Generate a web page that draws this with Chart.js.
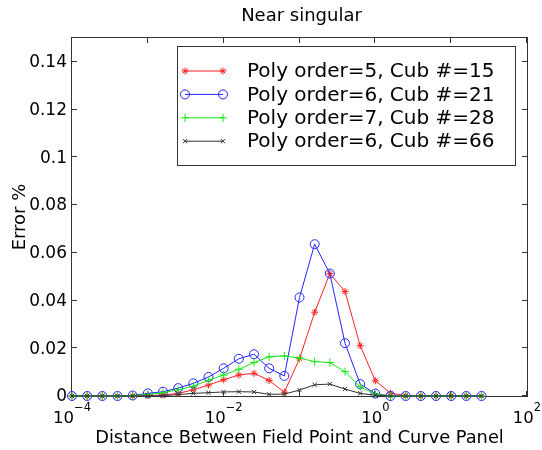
<!DOCTYPE html>
<html>
<head>
<meta charset="utf-8">
<title>Near singular</title>
<script src="https://cdn.jsdelivr.net/npm/chart.js@4.4.1/dist/chart.umd.min.js"></script>
<style>
  html, body { margin: 0; padding: 0; background: #fff; }
  canvas { display: block; }
</style>
</head>
<body>
<canvas id="chart" width="542" height="450"></canvas>
<script>
// log10 of the distance, one sample every 0.2 decade
const distExp = [-4, -3.8, -3.6, -3.4, -3.2, -3, -2.8, -2.6, -2.4, -2.2,
                 -2, -1.8, -1.6, -1.4, -1.2, -1, -0.8, -0.6, -0.4, -0.2,
                 0, 0.2, 0.4, 0.6, 0.8, 1, 1.2, 1.4];

// error % per series
const poly5cub15 = [0, 0, 0, 0, 0, 0.0002, 0.0004, 0.0011, 0.0026, 0.0046,
                    0.0068, 0.0088, 0.0095, 0.0065, 0.0016, 0.0156, 0.0351, 0.0513, 0.0438, 0.0211,
                    0.0064, 0.0012, 0.0002, 0, 0, 0, 0, 0];
const poly6cub21 = [0, 0, 0, 0, 0.0002, 0.0011, 0.0018, 0.0033, 0.0053, 0.008,
                    0.0116, 0.0156, 0.0175, 0.0116, 0.0084, 0.0413, 0.0636, 0.0513, 0.0221, 0.005,
                    0.001, 0, 0, 0, 0, 0, 0, 0];
const poly7cub28 = [0, 0, 0, 0, 0.0001, 0.0006, 0.0014, 0.0026, 0.0041, 0.0066,
                    0.0088, 0.0112, 0.014, 0.0164, 0.0168, 0.0159, 0.0144, 0.014, 0.0102, 0.0039,
                    0.0008, 0, 0, 0, 0, 0, 0, 0];
const poly6cub66 = [0, 0, 0, 0, 0, 0, 0.0001, 0.0006, 0.0011, 0.0014,
                    0.0017, 0.0018, 0.0017, 0.0007, 0.0008, 0.0025, 0.0047, 0.005, 0.0029, 0.0011,
                    0.0003, 0, 0, 0, 0, 0, 0, 0];

const seriesNames = ['Poly order=5, Cub #=15', 'Poly order=6, Cub #=21',
                     'Poly order=7, Cub #=28', 'Poly order=6, Cub #=66'];

const xTickExp = [-4, -3, -2, -1, 0, 1, 2];   // tick marks every decade
const xLabelExp = [-4, -2, 0, 2];             // labelled decades
const yTicks = [0, 0.02, 0.04, 0.06, 0.08, 0.1, 0.12, 0.14];
const yTickLabels = ['0', '0.02', '0.04', '0.06', '0.08', '0.1', '0.12', '0.14'];

const FONT = '"DejaVu Sans", sans-serif';

const styles = [
  { color: '#ff2020', pointStyle: 'star',     radius: 3.5, order: 4 },
  { color: '#2424ff', pointStyle: 'circle',   radius: 4.5, order: 3 },
  { color: '#14e614', pointStyle: 'cross',    radius: 4,   order: 2 },
  { color: '#303030', pointStyle: 'crossRot', radius: 3,   order: 1 }
];

function toPoints(vals) {
  return vals.map((v, i) => ({ x: Math.pow(10, distExp[i]), y: v }));
}

const allSeries = [poly5cub15, poly6cub21, poly7cub28, poly6cub66];

const datasets = allSeries.map((vals, k) => ({
  label: seriesNames[k],
  data: toPoints(vals),
  borderColor: styles[k].color,
  backgroundColor: 'rgba(0,0,0,0)',
  pointBorderColor: styles[k].color,
  pointBackgroundColor: 'rgba(0,0,0,0)',
  borderWidth: 1,
  pointBorderWidth: 1,
  pointRadius: styles[k].radius,
  pointStyle: styles[k].pointStyle,
  tension: 0,
  clip: false,
  order: styles[k].order
}));

// matlab-ish frame, inner ticks, labels and boxed legend
const matlabAxes = {
  id: 'matlabAxes',
  beforeDatasetsDraw(chart) {
    const ctx = chart.ctx;
    const a = chart.chartArea;
    const xs = chart.scales.x, ys = chart.scales.y;
    const l = a.left, r = a.right, t = a.top, b = a.bottom;
    ctx.save();
    ctx.strokeStyle = '#333';
    ctx.lineWidth = 1;
    ctx.strokeRect(l - 0.5, t - 0.5, r - l + 1, b - t + 1);

    ctx.beginPath();
    xTickExp.forEach(e => {
      const px = Math.round(xs.getPixelForValue(Math.pow(10, e))) - 0.5;
      ctx.moveTo(px, b); ctx.lineTo(px, b - 5);
      ctx.moveTo(px, t); ctx.lineTo(px, t + 5);
    });
    yTicks.forEach(v => {
      const py = Math.round(ys.getPixelForValue(v)) - 0.5;
      ctx.moveTo(l, py); ctx.lineTo(l + 5, py);
      ctx.moveTo(r, py); ctx.lineTo(r - 5, py);
    });
    ctx.stroke();

    ctx.fillStyle = '#000';
    // y tick labels
    ctx.font = '17px ' + FONT;
    ctx.textAlign = 'right';
    ctx.textBaseline = 'middle';
    yTicks.forEach((v, i) => {
      ctx.fillText(yTickLabels[i], l - 5, ys.getPixelForValue(v) + 1);
    });

    // x tick labels 10^n
    ctx.textBaseline = 'alphabetic';
    ctx.textAlign = 'left';
    xLabelExp.forEach(e => {
      const px = xs.getPixelForValue(Math.pow(10, e));
      const sup = e < 0 ? '\u2212' + Math.abs(e) : String(e);
      ctx.font = '16.5px ' + FONT;
      const wBase = ctx.measureText('10').width;
      ctx.font = '11.5px ' + FONT;
      const wSup = ctx.measureText(sup).width;
      const x0 = px - (wBase + wSup) / 2;
      ctx.font = '16.5px ' + FONT;
      ctx.fillText('10', x0, b + 27);
      ctx.font = '11.5px ' + FONT;
      ctx.fillText(sup, x0 + wBase, b + 15);
    });

    // titles
    ctx.textAlign = 'center';
    ctx.font = '17.8px ' + FONT;
    ctx.fillText('Distance Between Field Point and Curve Panel', (l + r) / 2, b + 47);
    ctx.font = '18px ' + FONT;
    ctx.fillText('Near singular', (l + r) / 2 + 2, 21);

    ctx.save();
    ctx.translate(25, (t + b) / 2);
    ctx.rotate(-Math.PI / 2);
    ctx.fillText('Error %', 0, 0);
    ctx.restore();
    ctx.restore();
  },
  afterDatasetsDraw(chart) {
    const ctx = chart.ctx;
    const bx = 177, by = 46, bw = 338, bh = 119;
    ctx.save();
    ctx.fillStyle = '#fff';
    ctx.fillRect(bx, by, bw, bh);
    ctx.strokeStyle = '#333';
    ctx.lineWidth = 1;
    ctx.strokeRect(bx + 0.5, by + 0.5, bw, bh);

    ctx.font = '20px ' + FONT;
    ctx.textAlign = 'left';
    ctx.textBaseline = 'middle';
    seriesNames.forEach((name, k) => {
      const cy = 71 + k * 23.4;
      const st = styles[k];
      ctx.strokeStyle = st.color;
      ctx.fillStyle = 'rgba(0,0,0,0)';
      ctx.lineWidth = 1;
      ctx.beginPath();
      ctx.moveTo(185, cy); ctx.lineTo(223, cy);
      ctx.stroke();
      [185, 223].forEach(mx => {
        Chart.helpers.drawPoint(ctx, {
          pointStyle: st.pointStyle, radius: st.radius, rotation: 0, borderWidth: 1
        }, mx, cy);
      });
      ctx.fillStyle = '#000';
      ctx.fillText(name, 247, cy + 1);
    });
    ctx.restore();
  }
};

new Chart(document.getElementById('chart'), {
  type: 'line',
  data: { datasets },
  options: {
    responsive: false,
    animation: false,
    events: [],
    layout: { padding: { left: 72, right: 15, top: 38, bottom: 54 } },
    plugins: { legend: { display: false }, tooltip: { enabled: false }, title: { display: false } },
    scales: {
      x: { type: 'logarithmic', min: 1e-4, max: 1e2, display: false },
      y: { type: 'linear', min: 0, max: 0.15, display: false }
    }
  },
  plugins: [matlabAxes]
});
</script>
</body>
</html>
